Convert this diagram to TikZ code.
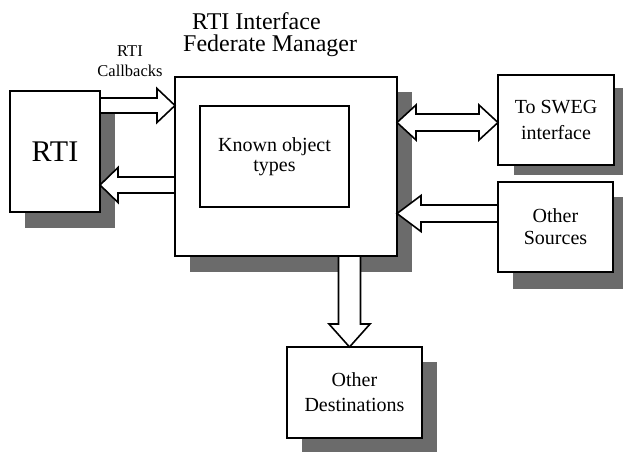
\documentclass[tikz,border=0pt]{standalone}
\usepackage{fontspec}
\setmainfont{Liberation Serif}
\usetikzlibrary{calc,backgrounds}
\newcommand{\blockarrow}[5]{% start, tip, shaft half width, head half width, head length
  \path ($(#2)!#5!(#1)$) coordinate (bh);
  \draw[blk] ($(#1)!#3!90:(#2)$) -- ($(bh)!#3!-90:(#1)$) -- ($(bh)!#4!-90:(#1)$) -- (#2)
    -- ($(bh)!#4!90:(#1)$) -- ($(bh)!#3!90:(#1)$) -- ($(#1)!#3!-90:(#2)$) -- cycle;}
\newcommand{\dblblockarrow}[5]{% end A, end B, shaft half width, head half width, head length
  \path ($(#1)!#5!(#2)$) coordinate (bha) ($(#2)!#5!(#1)$) coordinate (bhb);
  \draw[blk] (#1) -- ($(bha)!#4!90:(#2)$) -- ($(bha)!#3!90:(#2)$) -- ($(bhb)!#3!-90:(#1)$)
    -- ($(bhb)!#4!-90:(#1)$) -- (#2) -- ($(bhb)!#4!90:(#1)$) -- ($(bhb)!#3!90:(#1)$)
    -- ($(bha)!#3!-90:(#2)$) -- ($(bha)!#4!-90:(#2)$) -- cycle;}
\begin{document}
\begin{tikzpicture}[x=1pt,y=-1pt,
  box/.style={draw,line width=1.5pt,fill=white,inner sep=0pt,outer sep=0pt,anchor=north west,align=center},
  shadowc/.style={fill=black!58},
  blk/.style={draw,line width=1.6pt,fill=white,line join=miter}]
\useasboundingbox (0,0) rectangle (623,451);
% boxes
\node[box,minimum width=90pt,minimum height=121pt,font=\fontsize{30}{32}\selectfont] (rti) at (10,91) {RTI};
\node[box,minimum width=222pt,minimum height=179pt] (fm) at (175,77) {};
\node[box,minimum width=149pt,minimum height=101pt,font=\fontsize{20}{20}\selectfont] (kot) at (200,106) {Known object\\types};
\node[box,minimum width=116pt,minimum height=90pt,font=\fontsize{20}{26}\selectfont] (sweg) at (498,75) {To SWEG\\interface};
\node[box,minimum width=115pt,minimum height=90pt,font=\fontsize{20}{22}\selectfont] (os) at (498,182) {Other\\Sources};
\node[box,minimum width=135pt,minimum height=91pt,font=\fontsize{20}{25}\selectfont] (od) at (287,347) {Other\\Destinations};
% labels
\node[align=left,inner sep=0pt,anchor=north west,font=\fontsize{24}{22}\selectfont] (title) at (183,12.5) {\hspace*{9pt}RTI Interface\\Federate Manager};
\node[align=center,inner sep=0pt,font=\fontsize{16.5}{20}\selectfont] (cb) at (130,61) {RTI\\Callbacks};
% shadows
\begin{scope}[on background layer]
  \fill[shadowc] ($(rti.north west)+(15,16)$) rectangle ($(rti.south east)+(15,16)$);
  \fill[shadowc] ($(fm.north west)+(15,15)$) rectangle ($(fm.south east)+(15,16)$);
  \fill[shadowc] ($(sweg.north west)+(16,13)$) rectangle ($(sweg.south east)+(16,10)$);
  \fill[shadowc] ($(os.north west)+(15,15)$) rectangle ($(os.south east)+(15,17)$);
  \fill[shadowc] ($(od.north west)+(15,15)$) rectangle ($(od.south east)+(15,16)$);
\end{scope}
% connectors
\coordinate (a1s) at (rti.east |- 0,105.5);
\coordinate (a1t) at (fm.west |- 0,105.5);
\blockarrow{a1s}{a1t}{7.5pt}{17pt}{18pt}
\coordinate (a2s) at (fm.west |- 0,185);
\coordinate (a2t) at (rti.east |- 0,185);
\blockarrow{a2s}{a2t}{8pt}{17.5pt}{18pt}
\coordinate (a3a) at (fm.east |- 0,122.5);
\coordinate (a3b) at (sweg.west |- 0,122.5);
\dblblockarrow{a3a}{a3b}{8.5pt}{17.5pt}{19pt}
\coordinate (a4s) at (os.west |- 0,213.5);
\coordinate (a4t) at (fm.east |- 0,213.5);
\blockarrow{a4s}{a4t}{8.5pt}{18pt}{24pt}
\coordinate (a5s) at (349.5,0 |- fm.south);
\coordinate (a5t) at (349.5,0 |- od.north);
\blockarrow{a5s}{a5t}{11pt}{20.5pt}{23pt}
\end{tikzpicture}
\end{document}
